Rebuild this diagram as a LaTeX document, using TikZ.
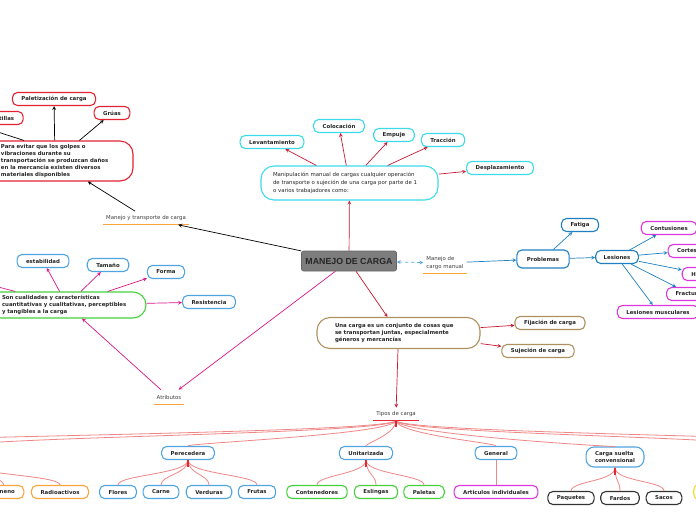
\documentclass[tikz,border=0pt]{standalone}
\usepackage{fontspec}
\setmainfont{DejaVu Sans}
\newfontfamily\titlefont{Liberation Sans}
\usetikzlibrary{shapes.geometric, arrows}

\definecolor{cyanb}{RGB}{60,218,235}
\definecolor{redb}{RGB}{228,35,50}
\definecolor{darkred}{RGB}{200,25,50}
\definecolor{greenb}{RGB}{70,210,60}
\definecolor{lblue}{RGB}{80,165,225}
\definecolor{blueb}{RGB}{30,128,195}
\definecolor{magb}{RGB}{220,55,220}
\definecolor{tanb}{RGB}{175,145,95}
\definecolor{orangeb}{RGB}{250,165,60}
\definecolor{yellowb}{RGB}{230,225,40}
\definecolor{branchred}{RGB}{240,135,135}
\definecolor{stemred}{RGB}{230,40,50}
\definecolor{centralgray}{RGB}{125,125,125}

\tikzstyle{central} = [rectangle, rounded corners=2pt, fill=centralgray, draw=black!60, line width=0.6pt, minimum width=95pt, minimum height=20pt, text=black!85, font=\titlefont\bfseries\fontsize{8.8}{10}\selectfont]
\tikzstyle{leaf} = [rectangle, rounded corners=5pt, line width=1.1pt, minimum height=13pt, inner xsep=9pt, inner ysep=2pt, text=black!85, font=\bfseries\fontsize{5.4}{6.5}\selectfont]
\tikzstyle{bubble} = [rectangle, rounded corners=13pt, line width=1.1pt, align=left, inner sep=0pt, text=black!85, font=\bfseries\fontsize{5.4}{6.6}\selectfont]
\tikzstyle{plain} = [inner xsep=3pt, inner ysep=4pt, text=black!75, font=\fontsize{5.4}{7.5}\selectfont]
\tikzstyle{uline} = [line width=1.2pt, draw=orangeb]
\tikzstyle{arrowk} = [line width=0.7pt, ->, >=stealth, draw=black]
\tikzstyle{arrowr} = [line width=0.7pt, ->, >=stealth, draw=darkred]
\tikzstyle{arrowm} = [line width=0.7pt, ->, >=stealth, draw=magenta!90!black]
\tikzstyle{arrowb} = [line width=0.7pt, ->, >=stealth, draw=blueb]
\tikzstyle{dasharrow} = [line width=0.7pt, <->, >=stealth, dashed, draw=lblue]
\tikzstyle{branch} = [line width=0.8pt, draw=branchred]
\tikzstyle{stem} = [line width=1.2pt, draw=stemred]

\begin{document}
\begin{tikzpicture}[x=1pt, y=-1pt]
    \useasboundingbox (0,0) rectangle (696,520);
    \fill[white] (0,0) rectangle (696,520);
    \clip (0,0) rectangle (696,520);

    % centro
    \node (manejo) [central] at (349,261) {MANEJO DE CARGA};
    \node (cargomanual) [plain, align=left] at (445,263) {Manejo de\\cargo manual};
    \draw [uline] (cargomanual.south west) -- (cargomanual.south east);
    \draw [dasharrow] (manejo) -- (cargomanual);

    % problemas
    \node (problemas) [leaf, draw=blueb, minimum height=18pt, inner xsep=10pt] at (543,259) {Problemas};
    \node (fatiga) [leaf, draw=blueb] at (580,225) {Fatiga};
    \node (lesiones) [leaf, draw=blueb, inner xsep=8pt] at (617,257) {Lesiones};
    \node (contusiones) [leaf, draw=magb] at (669,228) {Contusiones};
    \node (cortes) [leaf, draw=magb] at (687,251) {Cortes};
    \node (heridas) [leaf, draw=magb] at (703,274) {Heridas};
    \node (fracturas) [leaf, draw=magb] at (690,294) {Fracturas};
    \node (lesmusc) [leaf, draw=magb] at (658,312) {Lesiones musculares};
    \draw [arrowb] (cargomanual) -- (problemas);
    \draw [arrowb] (problemas) -- (fatiga);
    \draw [arrowb] (problemas) -- (lesiones);
    \draw [arrowb] (lesiones) -- (contusiones);
    \draw [arrowb] (lesiones) -- (cortes);
    \draw [arrowb] (lesiones) -- (heridas);
    \draw [arrowb] (lesiones) -- (fracturas);
    \draw [arrowb] (lesiones) -- (lesmusc);

    % manipulacion manual
    \node (manip) [bubble, draw=cyanb, minimum width=177pt, minimum height=34pt, text width=153pt, font=\fontsize{5.4}{8}\selectfont] at (349.5,183) {Manipulación manual de cargas cualquier operación\\de transporte o sujeción de una carga por parte de 1\\o varios trabajadores como:};
    \node (levant) [leaf, draw=cyanb] at (272,142) {Levantamiento};
    \node (coloc) [leaf, draw=cyanb] at (339,126) {Colocación};
    \node (empuje) [leaf, draw=cyanb] at (394,135) {Empuje};
    \node (traccion) [leaf, draw=cyanb] at (443,140) {Tracción};
    \node (desplaz) [leaf, draw=cyanb] at (500,168) {Desplazamiento};
    \draw [arrowr] (manejo) -- (manip);
    \draw [arrowr] (manip) -- (levant);
    \draw [arrowr] (manip) -- (coloc);
    \draw [arrowr] (manip) -- (empuje);
    \draw [arrowr] (manip) -- (traccion);
    \draw [arrowr] (manip) -- (desplaz);

    % manejo y transporte
    \node (transporte) [plain] at (146,218) {Manejo y transporte de carga};
    \draw [uline] (transporte.south west) -- (transporte.south east);
    \node (para) [bubble, draw=redb, minimum width=156pt, minimum height=40pt, text width=108pt, font=\bfseries\fontsize{5.4}{7}\selectfont] at (55,161) {Para evitar que los golpes o\\vibraciones durante su\\transportación se produzcan daños\\en la mercancía existen diversos\\materiales disponibles};
    \node (palet) [leaf, draw=redb] at (54,99) {Paletización de carga};
    \node (gruas) [leaf, draw=redb] at (112,113) {Grúas};
    \node (tillas) [leaf, draw=redb] at (0,118) {Plantillas};
    \draw [arrowk] (manejo) -- (transporte);
    \draw [arrowk] (transporte) -- (para);
    \draw [arrowk] (para) -- (palet);
    \draw [arrowk] (para) -- (gruas);
    \draw [arrowk] ([xshift=-31pt]para.north) -- (tillas.south west);

    % atributos
    \node (atrib) [plain, inner ysep=5pt] at (169,397) {Atributos};
    \draw [uline] (atrib.south west) -- (atrib.south east);
    \node (son) [bubble, draw=greenb, minimum width=158pt, minimum height=26pt, text width=130pt] at (67,305) {Son cualidades y características\\cuantitativas y cualitativas, perceptibles\\y tangibles a la carga};
    \node (estab) [leaf, draw=lblue] at (43,261) {estabilidad};
    \node (tamano) [leaf, draw=lblue] at (108,265) {Tamaño};
    \node (forma) [leaf, draw=lblue] at (166,272) {Forma};
    \node (resist) [leaf, draw=lblue] at (209,302) {Resistencia};
    \coordinate (sonfuera) at (-40,277);
    \draw [arrowm] (manejo) -- (atrib);
    \draw [arrowm] (atrib) -- (son);
    \draw [arrowm] (son) -- (estab);
    \draw [arrowm] (son) -- (tamano);
    \draw [arrowm] (son) -- (forma);
    \draw [arrowm] (son) -- (resist);
    \draw [arrowm] (son) -- (sonfuera);

    % una carga
    \node (unacarga) [bubble, draw=tanb, minimum width=163pt, minimum height=31pt, text width=127pt] at (398.5,333) {Una carga es un conjunto de cosas que\\se transportan juntas, especialmente\\géneros y mercancías};
    \node (fijacion) [leaf, draw=tanb] at (550,323) {Fijación de carga};
    \node (sujecion) [leaf, draw=tanb] at (538,351) {Sujeción de carga};
    \draw [arrowr] (manejo) -- (unacarga);
    \draw [arrowr] (unacarga) -- (fijacion);
    \draw [arrowr] (unacarga) -- (sujecion);

    % tipos de carga
    \node (tipos) [plain, inner ysep=3.5pt] at (396,414) {Tipos de carga};
    \draw [uline, draw=stemred] (tipos.south west) -- (tipos.south east);
    \draw [arrowr] (unacarga) -- (tipos);

    \node (pere) [leaf, draw=lblue] at (188,453) {Perecedera};
    \node (unit) [leaf, draw=lblue] at (366,453) {Unitarizada};
    \node (general) [leaf, draw=lblue] at (496,453) {General};
    \node (suelta) [leaf, draw=lblue, align=left, minimum height=20pt, rounded corners=8pt] at (615,457) {Carga suelta\\convensional};
    \coordinate (tipoizq) at (-40,447);
    \coordinate (tipoizqb) at (-40,462);
    \coordinate (tipoizq2) at (-220,447);
    \coordinate (tipoder) at (765,447);
    \coordinate (tipoderb) at (765,462);
    \coordinate (tipoder2) at (920,447);

    \foreach \t in {pere,unit,general,suelta,tipoizq,tipoizq2,tipoder,tipoder2}
        \draw [branch] (tipos.south) .. controls +(0,14) and +(0,-10) .. (\t);
    \draw [stem] (tipos.south) -- +(0,7);

    % hojas
    \node (veneno) [leaf, draw=orangeb] at (3.5,492) {Veneno};
    \node (radio) [leaf, draw=orangeb] at (60,492) {Radioactivos};
    \node (flores) [leaf, draw=lblue] at (118,492) {Flores};
    \node (carne) [leaf, draw=lblue] at (161,492) {Carne};
    \node (verduras) [leaf, draw=lblue] at (209,492) {Verduras};
    \node (frutas) [leaf, draw=lblue] at (257,492) {Frutas};
    \node (conten) [leaf, draw=greenb] at (317,492) {Contenedores};
    \node (eslingas) [leaf, draw=greenb] at (376,492) {Eslingas};
    \node (paletas) [leaf, draw=greenb] at (424,492) {Paletas};
    \node (articulos) [leaf, draw=magb] at (496,492) {Articulos individuales};
    \node (paquetes) [leaf, draw=black!80] at (571,498) {Paquetes};
    \node (fardos) [leaf, draw=black!80] at (620,498) {Fardos};
    \node (sacos) [leaf, draw=black!80] at (664,498) {Sacos};
    \node (peligrosa) [leaf, draw=yellowb, minimum height=15pt] at (717,492) {Peligrosa};

    \foreach \c in {veneno,radio}
        \draw [branch] (tipoizqb) .. controls +(0,12) and +(0,-10) .. (\c.north);
    \foreach \c in {flores,carne,verduras,frutas}
        \draw [branch] (pere.south) .. controls +(0,14) and +(0,-10) .. (\c.north);
    \foreach \c in {conten,eslingas,paletas}
        \draw [branch] (unit.south) .. controls +(0,14) and +(0,-10) .. (\c.north);
    \draw [branch] (general) -- (articulos);
    \foreach \c in {paquetes,fardos,sacos}
        \draw [branch] (suelta.south) .. controls +(0,14) and +(0,-10) .. (\c.north);
    \draw [branch] (tipoderb) .. controls +(0,12) and +(0,-10) .. (peligrosa.north);
    \draw [stem] (pere.south) -- +(0,7);
    \draw [stem] (unit.south) -- +(0,7);
    \draw [stem] (suelta.south) -- +(0,7);
\end{tikzpicture}
\end{document}
